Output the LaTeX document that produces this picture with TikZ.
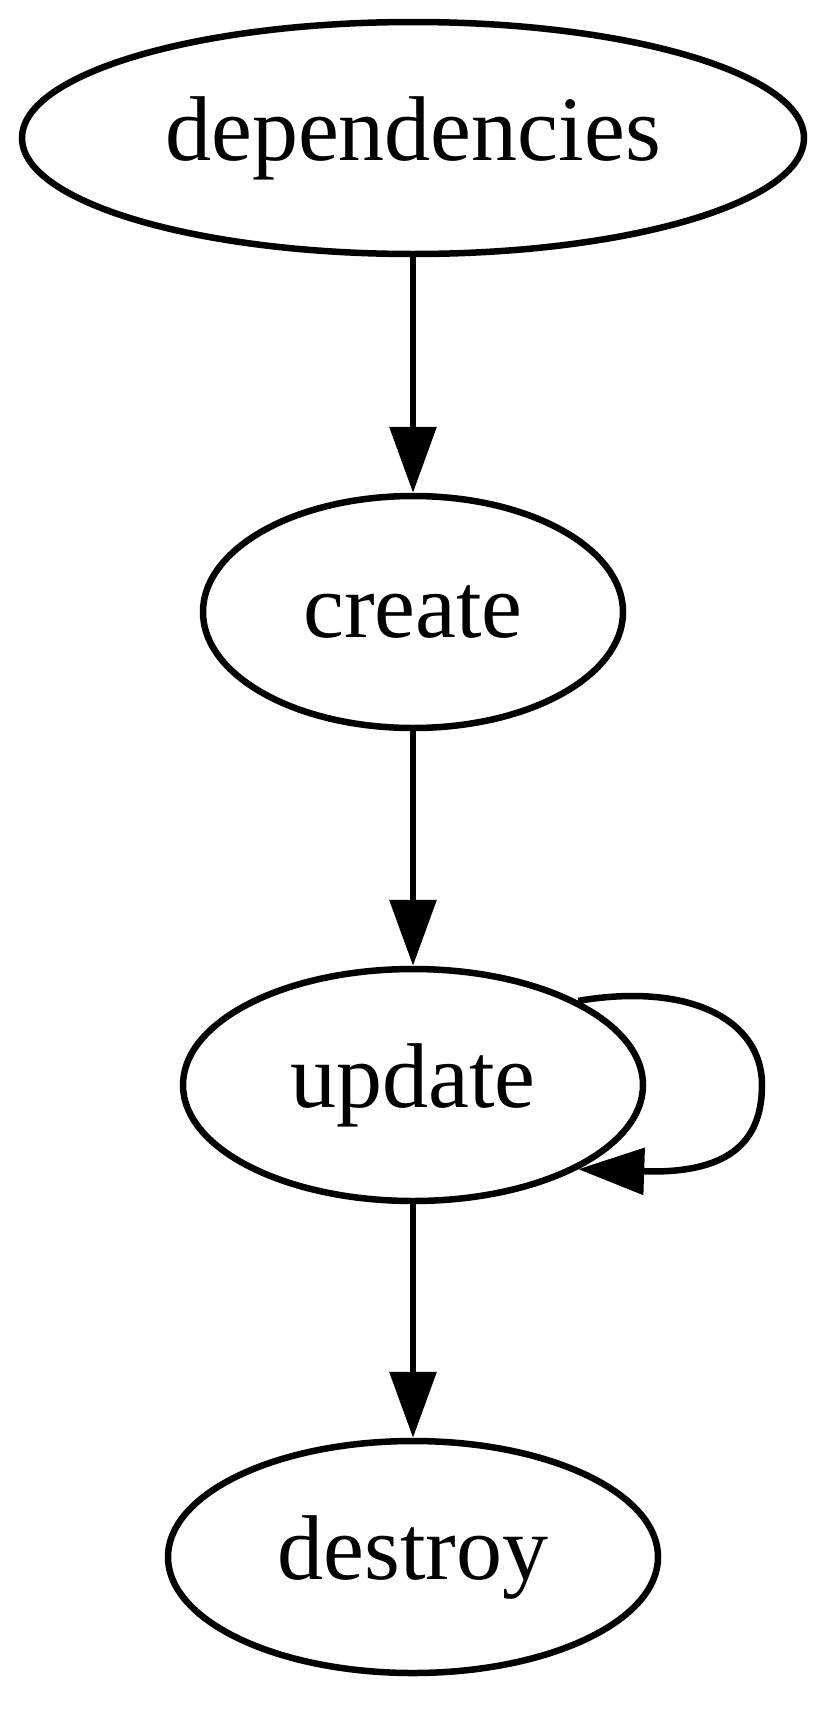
\documentclass[tikz,border=0pt]{standalone}
\usepackage{fontspec}
\setmainfont{Liberation Serif}
\usetikzlibrary{shapes.geometric,arrows.meta}
\newcommand{\glabel}[1]{\raisebox{-4pt}{#1}}
\begin{document}
\begin{tikzpicture}[x=1pt,y=-1pt,
  gnode/.style={ellipse,draw=black,line width=6.5pt,inner sep=0pt,minimum height=232pt,
    font=\fontsize{92}{110}\selectfont},
  garrow/.style={line width=6.5pt,-{Triangle[length=66pt,width=46pt]}}]
\useasboundingbox (0,0) rectangle (834,1732);
\node[gnode,minimum width=782pt] (dep) at (413,138) {\glabel{dependencies}};
\node[gnode,minimum width=420pt] (create) at (413,612) {\glabel{create}};
\node[gnode,minimum width=460pt] (update) at (413,1085) {\glabel{update}};
\node[gnode,minimum width=490pt] (destroy) at (413,1557) {\glabel{destroy}};
\draw[garrow] (dep) -- (create);
\draw[garrow] (create) -- (update);
\draw[garrow] (update) -- (destroy);
\draw[garrow] (update.27) .. controls (690,982) and (762,1020) .. (762,1085)
  .. controls (762,1145) and (725,1174) .. (update.-27);
\end{tikzpicture}
\end{document}
